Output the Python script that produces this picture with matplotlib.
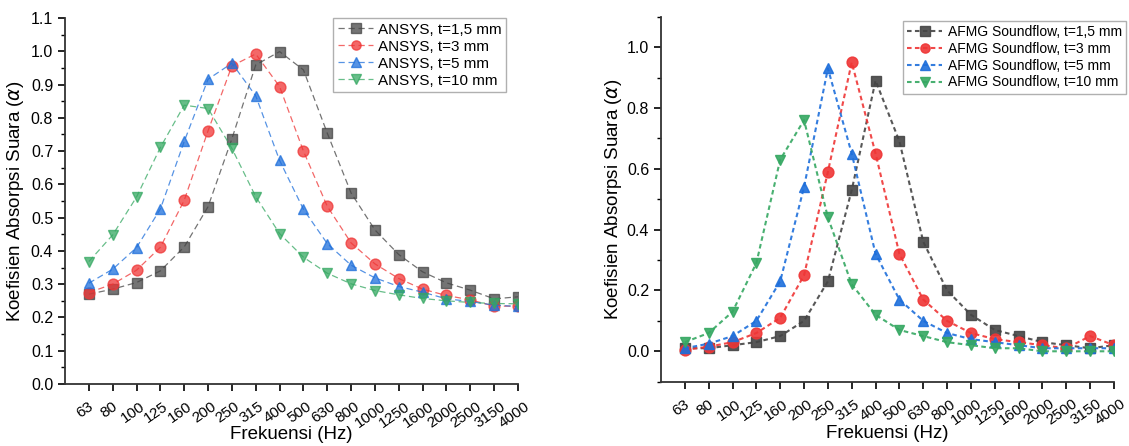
import matplotlib
matplotlib.use("Agg")
import matplotlib.pyplot as plt
import matplotlib.transforms as mtransforms
from matplotlib.ticker import MultipleLocator

plt.rcParams['font.family'] = ['Liberation Sans', 'DejaVu Sans']

# frekuensi (pita 1/3 oktaf)
frekuensi = ['63', '80', '100', '125', '160', '200', '250', '315', '400', '500',
             '630', '800', '1000', '1250', '1600', '2000', '2500', '3150', '4000']

# ANSYS
ansys_15 = [0.27, 0.285, 0.305, 0.34, 0.412, 0.533, 0.737, 0.959, 0.999, 0.944,
            0.754, 0.574, 0.463, 0.389, 0.337, 0.304, 0.282, 0.256, 0.262]
ansys_3 = [0.275, 0.30, 0.342, 0.411, 0.552, 0.761, 0.956, 0.992, 0.894, 0.70,
           0.534, 0.424, 0.361, 0.317, 0.285, 0.266, 0.253, 0.234, 0.234]
ansys_5 = [0.303, 0.345, 0.41, 0.526, 0.729, 0.916, 0.964, 0.866, 0.672, 0.525,
           0.422, 0.357, 0.319, 0.293, 0.276, 0.256, 0.248, 0.237, 0.233]
ansys_10 = [0.368, 0.448, 0.562, 0.711, 0.838, 0.828, 0.708, 0.563, 0.452, 0.381,
            0.333, 0.301, 0.281, 0.268, 0.257, 0.25, 0.245, 0.242, 0.241]

# AFMG Soundflow
afmg_15 = [0.01, 0.01, 0.02, 0.03, 0.05, 0.10, 0.23, 0.53, 0.89, 0.69,
           0.36, 0.20, 0.12, 0.07, 0.05, 0.03, 0.02, 0.01, 0.02]
afmg_3 = [0.005, 0.015, 0.03, 0.06, 0.11, 0.25, 0.59, 0.95, 0.65, 0.32,
          0.17, 0.10, 0.06, 0.04, 0.03, 0.02, 0.01, 0.05, 0.02]
afmg_5 = [0.01, 0.025, 0.05, 0.10, 0.23, 0.54, 0.93, 0.65, 0.32, 0.17,
          0.10, 0.06, 0.04, 0.03, 0.02, 0.01, 0.01, 0.01, 0.01]
afmg_10 = [0.03, 0.06, 0.13, 0.29, 0.63, 0.76, 0.44, 0.22, 0.12, 0.07,
           0.05, 0.03, 0.02, 0.01, 0.01, 0.0, 0.0, 0.0, 0.0]

warna = ['#454545', '#ef3535', '#1e6fdb', '#35a862']
penanda = ['s', 'o', '^', 'v']
ketebalan = ['t=1,5 mm', 't=3 mm', 't=5 mm', 't=10 mm']

fig = plt.figure(figsize=(11.29, 4.46), dpi=100)
W, H = 1129, 446
ax1 = fig.add_axes([65 / W, 1 - 384 / H, 453 / W, 366 / H])
ax2 = fig.add_axes([661 / W, 1 - 381.7 / H, 453 / W, 365 / H])

x = list(range(len(frekuensi)))

# panel kiri: ANSYS
for y, c, m, t in zip([ansys_15, ansys_3, ansys_5, ansys_10], warna, penanda, ketebalan):
    ax1.plot(x, y, linestyle=(0, (5, 3)), lw=0.9, color=c, alpha=0.75,
             marker=m, markersize=7.8, markerfacecolor=c, markeredgecolor=c,
             label=f'ANSYS, {t}')

# panel kanan: AFMG
for y, c, m, t in zip([afmg_15, afmg_3, afmg_5, afmg_10], warna, penanda, ketebalan):
    ax2.plot(x, y, linestyle=(0, (2.2, 1.6)), lw=1.5, color=c, alpha=0.9,
             marker=m, markersize=7.8, markerfacecolor=c, markeredgecolor=c,
             label=f'AFMG Soundflow, {t}')

# geser label sumbu-x sedikit ke kiri
geser = mtransforms.ScaledTranslation(-4 / 100, 0, fig.dpi_scale_trans)

for ax in (ax1, ax2):
    for s in ('top', 'right'):
        ax.spines[s].set_visible(False)
    for s in ('left', 'bottom'):
        ax.spines[s].set_linewidth(1.3)
        ax.spines[s].set_color('#333333')
    ax.set_xlim(-1, 18)
    ax.set_xticks(x)
    ax.set_xticklabels(frekuensi, rotation=35, ha='center', fontsize=11)
    ax.tick_params(axis='x', direction='out', length=5, width=1.2, pad=6)
    ax.tick_params(axis='y', which='major', direction='out', length=5, width=1.2,
                   labelsize=11.5)
    ax.tick_params(axis='y', which='minor', direction='out', length=3, width=1.0)
    # setelah tick_params, supaya transform tidak di-reset
    for lbl in ax.get_xticklabels():
        lbl.set_transform(lbl.get_transform() + geser)
    ax.set_xlabel('Frekuensi (Hz)', fontsize=13.5)
    ax.set_ylabel(r'Koefisien Absorpsi Suara ($\alpha$)', fontsize=13.5)

ax1.xaxis.set_label_coords(0.5, -0.114)
ax1.yaxis.set_label_coords(-0.086, 0.5)
ax2.xaxis.set_label_coords(0.5, -0.12)
ax2.yaxis.set_label_coords(-0.081, 0.5)

ax1.set_ylim(0, 1.1)
ax1.yaxis.set_major_locator(MultipleLocator(0.1))
ax1.yaxis.set_minor_locator(MultipleLocator(0.05))
ax1.yaxis.set_major_formatter(plt.FormatStrFormatter('%.1f'))

ax2.set_ylim(-0.1, 1.1)
ax2.set_yticks([0.0, 0.2, 0.4, 0.6, 0.8, 1.0])
ax2.yaxis.set_minor_locator(MultipleLocator(0.1))
ax2.yaxis.set_major_formatter(plt.FormatStrFormatter('%.1f'))

leg1 = ax1.legend(loc='upper right', bbox_to_anchor=(506 / W, 1 - 18 / H),
                  bbox_transform=fig.transFigure, borderaxespad=0, fontsize=11,
                  fancybox=False, edgecolor='#b0b0b0', framealpha=1,
                  handlelength=2.3, handletextpad=0.3, labelspacing=0.2,
                  borderpad=0.3, markerscale=0.85)
leg2 = ax2.legend(loc='upper right', bbox_to_anchor=(1126 / W, 1 - 21 / H),
                  bbox_transform=fig.transFigure, borderaxespad=0, fontsize=10,
                  fancybox=False, edgecolor='#b0b0b0', framealpha=1,
                  handlelength=2.5, handletextpad=0.4, labelspacing=0.2,
                  borderpad=0.3, markerscale=0.85)
for lg in (leg1, leg2):
    lg.get_frame().set_linewidth(1.0)

fig.savefig('out.png', dpi=100)
